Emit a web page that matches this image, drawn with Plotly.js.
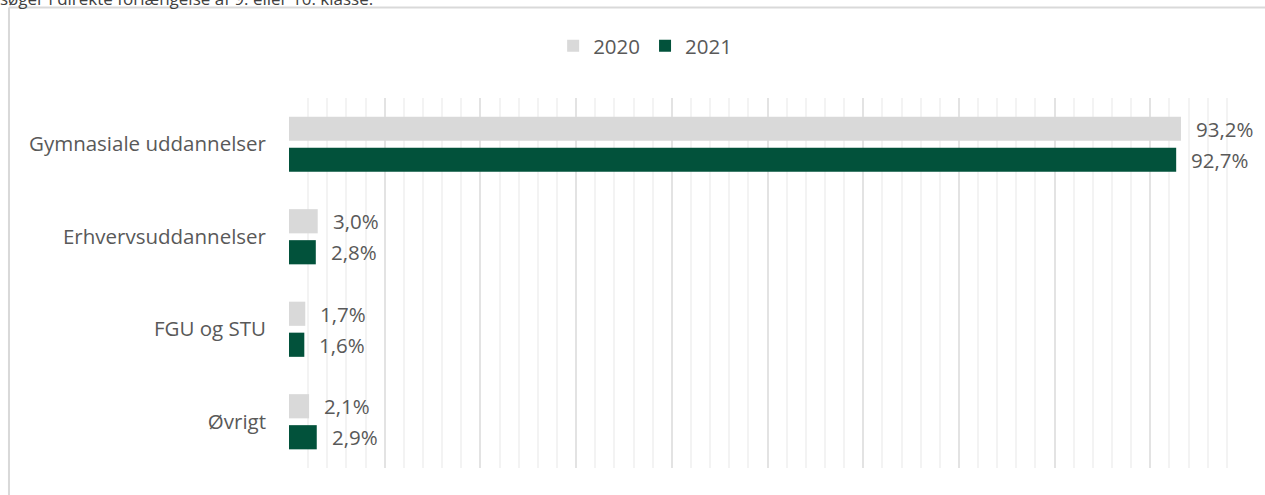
<!DOCTYPE html>
<html>
<head>
<meta charset="utf-8">
<script src="https://cdn.plot.ly/plotly-3.0.1.min.js"></script>
<style>
html,body{margin:0;padding:0;background:#fff;}
#chart{width:1265px;height:495px;}
</style>
</head>
<body>
<div id="chart"></div>
<script>
const categories = ["Gymnasiale uddannelser", "Erhvervsuddannelser", "FGU og STU", "Øvrigt"];
const seriesNames = ["2020", "2021"];
const values2020 = [93.2, 3.0, 1.7, 2.1];
const values2021 = [92.7, 2.8, 1.6, 2.9];
const labels2020 = ["93,2%", "3,0%", "1,7%", "2,1%"];
const labels2021 = ["92,7%", "2,8%", "1,6%", "2,9%"];
const clippedTitle = "søger i direkte forlængelse af 9. eller 10. klasse.";

const FONT = "'Open Sans', Lato, sans-serif";
const TXT = "#595959";
const FS = 20.5;

const traces = [
  {type:"bar", orientation:"h", name:seriesNames[0], y:categories, x:values2020,
   marker:{color:"#D9D9D9"}, hoverinfo:"skip"},
  {type:"bar", orientation:"h", name:seriesNames[1], y:categories, x:values2021,
   marker:{color:"#02523B"}, hoverinfo:"skip"}
];

const annotations = [];
categories.forEach((c, i) => {
  annotations.push({x:values2020[i], y:c, xref:"x", yref:"y", text:labels2020[i],
    showarrow:false, xanchor:"left", yanchor:"middle", xshift:13, yshift:15.5,
    font:{family:FONT, size:FS, color:TXT}});
  annotations.push({x:values2021[i], y:c, xref:"x", yref:"y", text:labels2021[i],
    showarrow:false, xanchor:"left", yanchor:"middle", xshift:13, yshift:-15.5,
    font:{family:FONT, size:FS, color:TXT}});
});
annotations.push({x:-0.304, y:1.233, xref:"paper", yref:"paper", text:clippedTitle,
  showarrow:false, xanchor:"left", yanchor:"bottom",
  font:{family:FONT, size:17, color:"#404040"}});

const layout = {
  width:1265, height:495,
  margin:{l:289, r:18, t:98, b:27, pad:0},
  paper_bgcolor:"#fff", plot_bgcolor:"#fff",
  font:{family:FONT, size:FS, color:TXT},
  barmode:"group", bargap:0.33, bargroupgap:0.22,
  showlegend:true,
  legend:{orientation:"h", xref:"container", x:0.51, xanchor:"center",
    yref:"container", y:0.907, yanchor:"middle",
    font:{family:FONT, size:FS, color:TXT}, itemwidth:30, traceorder:"normal"},
  xaxis:{range:[0,100.1], showticklabels:false, zeroline:false, showline:false,
    showgrid:true, dtick:10, gridcolor:"#E3E3E3", gridwidth:2, fixedrange:true,
    minor:{dtick:2, showgrid:true, gridcolor:"#F3F3F3", gridwidth:2}},
  yaxis:{autorange:"reversed", showgrid:false, zeroline:false, showline:false,
    ticks:"", ticklabelstandoff:22, tickfont:{family:FONT, size:FS, color:TXT}},
  annotations:annotations,
  shapes:[
    {type:"line", xref:"paper", yref:"paper", x0:-0.2923, x1:-0.2923, y0:-0.2, y1:1.2446,
     line:{color:"#D9D9D9", width:2}, layer:"below"},
    {type:"line", xref:"paper", yref:"paper", x0:-0.2923, x1:1.1, y0:1.2446, y1:1.2446,
     line:{color:"#D9D9D9", width:2}, layer:"below"}
  ]
};

Plotly.newPlot("chart", traces, layout, {displayModeBar:false, staticPlot:true});
</script>
</body>
</html>
